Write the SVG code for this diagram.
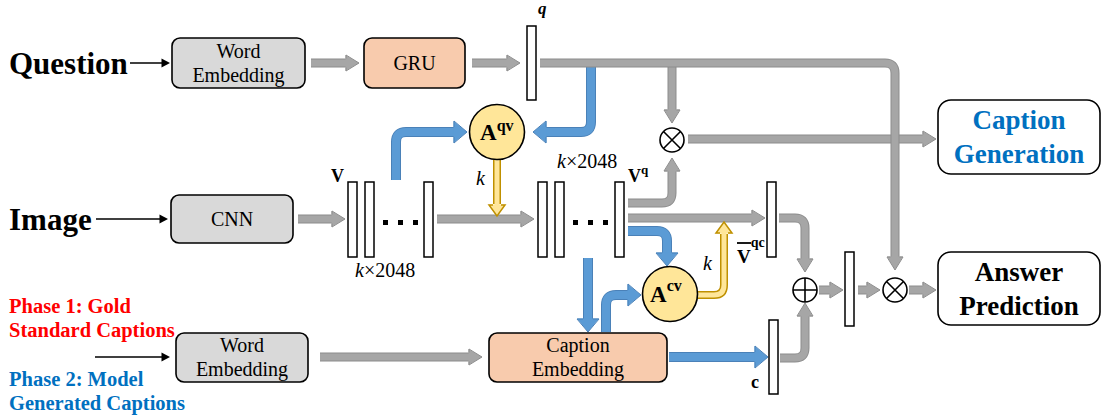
<svg xmlns="http://www.w3.org/2000/svg" width="1104" height="419" viewBox="0 0 1104 419">
<style>
text{font-family:"Liberation Serif","Times New Roman",serif;fill:#000}
.box{stroke:#000;stroke-width:1.6}
.gray{fill:#d9d9d9}
.orange{fill:#f8cbad}
.white{fill:#fff}
.bt{font-size:20px;text-anchor:middle}
.big{font-size:31px;font-weight:bold}
.out{font-size:27px;font-weight:bold;text-anchor:middle}
.bar{fill:#fff;stroke:#000;stroke-width:1.5}
.att{fill:#ffe699;stroke:#000;stroke-width:1.6}
.op{fill:#fff;stroke:#000;stroke-width:1.6}
.go{fill:none;stroke:#8c8c8c;stroke-width:9}
.gi{fill:none;stroke:#a6a6a6;stroke-width:7}
.bo{fill:none;stroke:#4a81b8;stroke-width:10}
.bi{fill:none;stroke:#5b9bd5;stroke-width:8}
.yo{fill:none;stroke:#bf9000;stroke-width:8}
.yi{fill:none;stroke:#ffe699;stroke-width:5}
.thin{fill:none;stroke:#000;stroke-width:1.5}
.lbl{font-weight:bold}
.it{font-style:italic}
</style>
<defs>
<marker id="hg" markerUnits="userSpaceOnUse" viewBox="-1 -9 15 18" refX="0" refY="0" markerWidth="15" markerHeight="18" orient="auto" overflow="visible">
<path d="M-0.5,-8 L13,0 L-0.5,8 z" fill="#a6a6a6"/>
<path d="M0,-4.5 V-8 L13,0 L0,8 V4.5" fill="none" stroke="#8c8c8c" stroke-width="1"/>
</marker>
<marker id="hb" markerUnits="userSpaceOnUse" viewBox="-1 -12 15 24" refX="0" refY="0" markerWidth="15" markerHeight="24" orient="auto" overflow="visible">
<path d="M-0.5,-11 L13,0 L-0.5,11 z" fill="#5b9bd5"/>
<path d="M0,-5 V-11 L13,0 L0,11 V5" fill="none" stroke="#4a81b8" stroke-width="1"/>
</marker>
<marker id="hy" markerUnits="userSpaceOnUse" viewBox="-1 -9 13 18" refX="0" refY="0" markerWidth="13" markerHeight="18" orient="auto" overflow="visible">
<path d="M-0.5,-8 L11,0 L-0.5,8 z" fill="#ffe699"/>
<path d="M0,-4 V-8 L11,0 L0,8 V4" fill="none" stroke="#bf9000" stroke-width="1.5"/>
</marker>
<marker id="hk" markerUnits="userSpaceOnUse" viewBox="0 -5 9 10" refX="0" refY="0" markerWidth="9" markerHeight="10" orient="auto" overflow="visible">
<path d="M-0.5,-4.5 L8,0 L-0.5,4.5 z" fill="#000"/>
</marker>
</defs>

<g id="labels">
<text class="big" x="9" y="74">Question</text>
<text class="big" x="9" y="230">Image</text>
<text x="9" y="313" font-size="20.5" font-weight="bold" style="fill:#ff0000">Phase 1: Gold</text>
<text x="9" y="337" font-size="20.5" font-weight="bold" style="fill:#ff0000">Standard Captions</text>
<text x="9" y="386" font-size="20.5" font-weight="bold" style="fill:#0070c0">Phase 2: Model</text>
<text x="9" y="410" font-size="20.5" font-weight="bold" style="fill:#0070c0">Generated Captions</text>
</g>

<g id="connectors">
<path class="thin" d="M130,63 H162" marker-end="url(#hk)"/>
<path class="thin" d="M96,219 H160" marker-end="url(#hk)"/>
<path class="thin" d="M95,357 H162" marker-end="url(#hk)"/>

<path class="go" d="M311,63 H346"/><path class="gi" d="M311,63 H346" marker-end="url(#hg)"/>
<path class="go" d="M472,63 H507"/><path class="gi" d="M472,63 H507" marker-end="url(#hg)"/>
<path class="go" d="M672,66 V110"/><path class="gi" d="M672,66 V110" marker-end="url(#hg)"/>
<path class="bo" d="M591,66 V122 Q591,132 581,132 H546"/><path class="bi" d="M591,66 V122 Q591,132 581,132 H546" marker-end="url(#hb)"/>
<path class="go" d="M688,139 H923"/><path class="gi" d="M688,139 H923" marker-end="url(#hg)"/>
<path class="go" d="M540,63 H885 Q895,63 895,73 V257"/><path class="gi" d="M540,63 H885 Q895,63 895,73 V257" marker-end="url(#hg)"/>
<path class="go" d="M298,219 H332"/><path class="gi" d="M298,219 H332" marker-end="url(#hg)"/>
<path class="go" d="M437,219 H521"/><path class="gi" d="M437,219 H521" marker-end="url(#hg)"/>
<path class="bo" d="M396,180 V142 Q396,132 406,132 H454"/><path class="bi" d="M396,180 V142 Q396,132 406,132 H454" marker-end="url(#hb)"/>
<path class="yo" d="M497,160 V204"/><path class="yi" d="M497,159 V205" marker-end="url(#hy)"/>
<path class="go" d="M628,203 H662 Q672,203 672,193 V171"/><path class="gi" d="M628,203 H662 Q672,203 672,193 V171" marker-end="url(#hg)"/>
<path class="go" d="M628,218 H752"/><path class="gi" d="M628,218 H752" marker-end="url(#hg)"/>
<path class="bo" d="M628,231 H657 Q667,231 667,241 V253"/><path class="bi" d="M628,231 H657 Q667,231 667,241 V253" marker-end="url(#hb)"/>
<path class="bo" d="M588,258 V319"/><path class="bi" d="M588,258 V319" marker-end="url(#hb)"/>
<path class="bo" d="M606,332 V305 Q606,295 616,295 H628"/><path class="bi" d="M606,332 V305 Q606,295 616,295 H628" marker-end="url(#hb)"/>
<path class="yo" d="M697,295 H714 Q724,295 724,285 V234"/><path class="yi" d="M696,295 H714 Q724,295 724,285 V233" marker-end="url(#hy)"/>
<path class="bo" d="M669,357 H755"/><path class="bi" d="M669,357 H755" marker-end="url(#hb)"/>
<path class="go" d="M320,357 H469"/><path class="gi" d="M320,357 H469" marker-end="url(#hg)"/>
<path class="go" d="M779,218 H795 Q805,218 805,228 V259"/><path class="gi" d="M779,218 H795 Q805,218 805,228 V259" marker-end="url(#hg)"/>
<path class="go" d="M780,358 H795 Q805,358 805,348 V316"/><path class="gi" d="M780,358 H795 Q805,358 805,348 V316" marker-end="url(#hg)"/>
<path class="go" d="M819,290 H830"/><path class="gi" d="M819,290 H830" marker-end="url(#hg)"/>
<path class="go" d="M858,290 H867"/><path class="gi" d="M858,290 H867" marker-end="url(#hg)"/>
<path class="go" d="M909,290 H923"/><path class="gi" d="M909,290 H923" marker-end="url(#hg)"/>
</g>

<g id="word-embedding-q">
<rect class="box gray" x="172" y="38" width="133" height="50" rx="8"/>
<text class="bt" x="238.5" y="58">Word</text>
<text class="bt" x="238.5" y="82">Embedding</text>
</g>
<g id="gru">
<rect class="box orange" x="364" y="38" width="101" height="50" rx="8"/>
<text class="bt" x="414.5" y="70">GRU</text>
</g>
<g id="q-vector">
<rect class="bar" x="527" y="26" width="9" height="74"/>
<text x="538" y="14" font-size="17" font-weight="bold" font-style="italic">q</text>
</g>
<g id="cnn">
<rect class="box gray" x="171" y="195" width="122" height="48" rx="8"/>
<text class="bt" x="232" y="226">CNN</text>
</g>
<g id="v-stack">
<rect class="bar" x="348" y="182" width="9" height="75"/>
<rect class="bar" x="365" y="182" width="9" height="75"/>
<rect class="bar" x="424" y="182" width="9" height="75"/>
<rect x="383" y="220" width="5" height="5"/>
<rect x="398" y="220" width="5" height="5"/>
<rect x="413" y="220" width="5" height="5"/>
<text class="lbl" x="331" y="182" font-size="18">V</text>
<text x="355" y="277" font-size="20"><tspan class="it">k</tspan>×2048</text>
</g>
<g id="vq-stack">
<rect class="bar" x="538" y="182" width="9" height="75"/>
<rect class="bar" x="555" y="182" width="9" height="75"/>
<rect class="bar" x="615" y="182" width="9" height="75"/>
<rect x="573" y="220" width="5" height="5"/>
<rect x="588" y="220" width="5" height="5"/>
<rect x="603" y="220" width="5" height="5"/>
<text x="557" y="168" font-size="20"><tspan class="it">k</tspan>×2048</text>
<text class="lbl" x="628" y="182" font-size="18">V<tspan font-size="13" dy="-8">q</tspan></text>
</g>
<g id="a-qv">
<circle class="att" cx="497" cy="132" r="27.5"/>
<text class="lbl" x="480" y="140" font-size="23">A<tspan font-size="16" dy="-9">qv</tspan></text>
<text class="it" x="476" y="185" font-size="20">k</text>
</g>
<g id="a-cv">
<circle class="att" cx="670" cy="294" r="27.5"/>
<text class="lbl" x="650" y="302" font-size="23">A<tspan font-size="16" dy="-11">cv</tspan></text>
<text class="it" x="703" y="270" font-size="20">k</text>
</g>
<g id="vqc-vector">
<rect class="bar" x="767" y="182" width="9" height="75"/>
<text class="lbl" x="737" y="263" font-size="19">V<tspan font-size="14" dy="-16">qc</tspan></text>
<line x1="737" y1="243" x2="751" y2="243" stroke="#000" stroke-width="1.8"/>
</g>
<g id="word-embedding-c">
<rect class="box gray" x="176" y="333" width="132" height="49" rx="8"/>
<text class="bt" x="242" y="352">Word</text>
<text class="bt" x="242" y="376">Embedding</text>
</g>
<g id="caption-embedding">
<rect class="box orange" x="489" y="333" width="178" height="49" rx="8"/>
<text class="bt" x="578" y="352">Caption</text>
<text class="bt" x="578" y="376">Embedding</text>
</g>
<g id="c-vector">
<rect class="bar" x="769" y="320" width="9" height="74"/>
<text class="lbl" x="751" y="388" font-size="18">c</text>
</g>
<g id="mult-1">
<circle class="op" cx="672" cy="140" r="12"/>
<path d="M663.5,131.5 L680.5,148.5 M680.5,131.5 L663.5,148.5" stroke="#000" stroke-width="1.6"/>
</g>
<g id="add">
<circle class="op" cx="805" cy="290" r="12"/>
<path d="M793,290 H817 M805,278 V302" stroke="#000" stroke-width="1.6"/>
</g>
<g id="fused-vector">
<rect class="bar" x="845" y="252" width="9" height="74"/>
</g>
<g id="mult-2">
<circle class="op" cx="895" cy="290" r="12"/>
<path d="M886.5,281.5 L903.5,298.5 M903.5,281.5 L886.5,298.5" stroke="#000" stroke-width="1.6"/>
</g>
<g id="caption-generation">
<rect class="box white" x="938" y="100" width="162" height="74" rx="13"/>
<text class="out" x="1019" y="129" style="fill:#0070c0">Caption</text>
<text class="out" x="1019" y="163" style="fill:#0070c0">Generation</text>
</g>
<g id="answer-prediction">
<rect class="box white" x="938" y="252" width="162" height="73" rx="13"/>
<text class="out" x="1019" y="281">Answer</text>
<text class="out" x="1019" y="315">Prediction</text>
</g>
</svg>
